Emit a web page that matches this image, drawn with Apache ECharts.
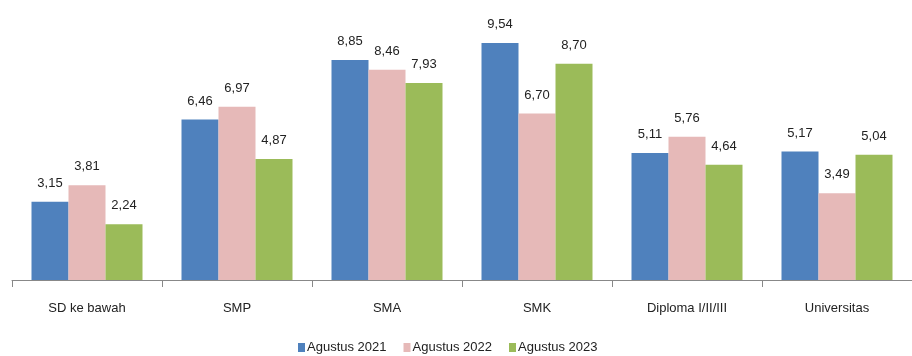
<!DOCTYPE html>
<html><head><meta charset="utf-8">
<script src="https://cdn.jsdelivr.net/npm/echarts@6/dist/echarts.min.js"></script>
<style>html,body{margin:0;padding:0;background:#fff}#c{width:912px;height:356px}</style>
</head><body><div id="c"></div>
<script>
const categories = ['SD ke bawah', 'SMP', 'SMA', 'SMK', 'Diploma I/II/III', 'Universitas'];
const seriesNames = ['Agustus 2021', 'Agustus 2022', 'Agustus 2023'];
const ag2021 = [3.15, 6.46, 8.85, 9.54, 5.11, 5.17];
const ag2022 = [3.81, 6.97, 8.46, 6.70, 5.76, 3.49];
const ag2023 = [2.24, 4.87, 7.93, 8.70, 4.64, 5.04];
const colors = ['#4F81BD', '#E6B9B8', '#9BBB59'];
const FONT = '"Liberation Sans Narrow", "Arial Narrow", "Liberation Sans", sans-serif';

const chart = echarts.init(document.getElementById('c'));
const mk = (name, data, color) => ({
  name, type: 'bar', data, barGap: '0%', barCategoryGap: '26%',
  itemStyle: { color },
  label: { show: true, position: 'top', distance: 12, color: '#222', fontFamily: FONT, fontSize: 13,
    formatter: p => p.value.toFixed(2).replace('.', ',') }
});
chart.setOption({
  animation: false,
  textStyle: { fontFamily: FONT },
  grid: { left: 12, right: -10, top: 31.5, bottom: 76 },
  legend: {
    data: seriesNames, left: 293, top: 336, icon: 'rect', itemWidth: 7, itemHeight: 9, itemGap: 17,
    textStyle: { fontFamily: FONT, fontSize: 13, color: '#222', padding: [0, 0, 0, -3] }
  },
  xAxis: {
    type: 'category', data: categories,
    axisLine: { lineStyle: { color: '#888', width: 1 } },
    axisTick: { show: true, length: 7, lineStyle: { color: '#888' } },
    axisLabel: { margin: 22, color: '#222', fontFamily: FONT, fontSize: 13 }
  },
  yAxis: { type: 'value', min: 0, max: 10, show: false, splitLine: { show: false } },
  series: [mk(seriesNames[0], ag2021, colors[0]), mk(seriesNames[1], ag2022, colors[1]), mk(seriesNames[2], ag2023, colors[2])]
});
</script></body></html>
